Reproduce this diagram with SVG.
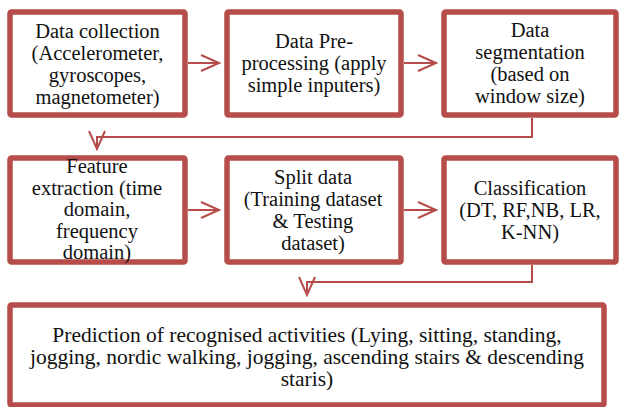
<svg xmlns="http://www.w3.org/2000/svg" width="619" height="407" viewBox="0 0 619 407">
  <style>
    .box { fill: #ffffff; stroke: #b64d4a; stroke-width: 5.5; }
    .link { fill: none; stroke: #b64d4a; stroke-width: 2; }
    .lbl { font-family: 'Liberation Serif', 'Times New Roman', serif; font-size: 20.5px; fill: #111111; text-anchor: middle; }
    .wide { font-size: 21.5px; }
  </style>
  <defs>
    <marker id="chevron" viewBox="-20 -10 22 20" markerWidth="22" markerHeight="20" refX="0" refY="0" markerUnits="userSpaceOnUse" orient="auto">
      <path d="M-18,-8 L0,0 L-18,8" fill="none" stroke="#b64d4a" stroke-width="2"/>
    </marker>
  </defs>
  <rect width="619" height="407" fill="#ffffff"/>

  <g id="connectors">
    <path class="link" d="M188,63 H219" marker-end="url(#chevron)"/>
    <path class="link" d="M404,63 H436" marker-end="url(#chevron)"/>
    <path class="link" d="M532,118 V137 H97 V149" marker-end="url(#chevron)"/>
    <path class="link" d="M188,210 H219" marker-end="url(#chevron)"/>
    <path class="link" d="M404,210 H436" marker-end="url(#chevron)"/>
    <path class="link" d="M532,265 V282 H307 V295" marker-end="url(#chevron)"/>
  </g>

  <g id="data-collection" class="lbl">
    <rect class="box" x="10" y="12" width="175" height="103" rx="1.5"/>
    <text x="97.5" y="38">Data collection</text>
    <text x="97.5" y="60">(Accelerometer,</text>
    <text x="97.5" y="82">gyroscopes,</text>
    <text x="97.5" y="104">magnetometer)</text>
  </g>

  <g id="pre-processing" class="lbl">
    <rect class="box" x="227" y="12" width="174" height="103" rx="1.5"/>
    <text x="314" y="48">Data Pre-</text>
    <text x="314" y="70">processing (apply</text>
    <text x="314" y="92">simple inputers)</text>
  </g>

  <g id="segmentation" class="lbl">
    <rect class="box" x="444" y="12" width="172" height="103" rx="1.5"/>
    <text x="530" y="37">Data</text>
    <text x="530" y="59">segmentation</text>
    <text x="530" y="81">(based on</text>
    <text x="530" y="103">window size)</text>
  </g>

  <g id="feature-extraction" class="lbl">
    <rect class="box" x="10" y="158" width="175" height="104" rx="1.5"/>
    <text x="97" y="173">Feature</text>
    <text x="97" y="194.5">extraction (time</text>
    <text x="97" y="216">domain,</text>
    <text x="97" y="237.5">frequency</text>
    <text x="97" y="259">domain)</text>
  </g>

  <g id="split-data" class="lbl">
    <rect class="box" x="227" y="158" width="174" height="104" rx="1.5"/>
    <text x="313" y="184">Split data</text>
    <text x="313" y="206">(Training dataset</text>
    <text x="313" y="228">&amp; Testing</text>
    <text x="313" y="250">dataset)</text>
  </g>

  <g id="classification" class="lbl">
    <rect class="box" x="444" y="158" width="172" height="104" rx="1.5"/>
    <text x="530" y="195">Classification</text>
    <text x="530" y="217">(DT, RF,NB, LR,</text>
    <text x="530" y="239">K-NN)</text>
  </g>

  <g id="prediction" class="lbl wide">
    <rect class="box" x="10" y="305" width="594" height="100" rx="1.5"/>
    <text x="307" y="342">Prediction of recognised activities (Lying, sitting, standing,</text>
    <text x="307" y="364">jogging, nordic walking, jogging, ascending stairs &amp; descending</text>
    <text x="307" y="386">staris)</text>
  </g>
</svg>
